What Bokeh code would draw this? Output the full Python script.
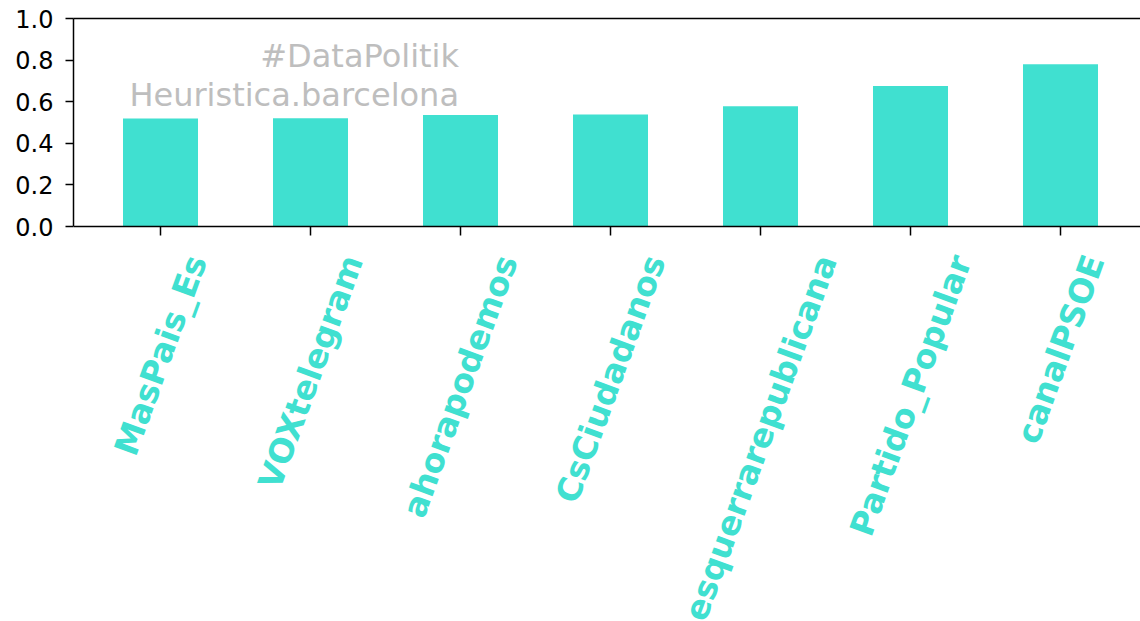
import math
from bokeh.plotting import figure
from bokeh.models import FixedTicker, LinearAxis, PrintfTickFormatter, Range1d, Span, ColumnDataSource
from bokeh.embed import file_html
from bokeh.resources import INLINE

# ---- data ----
accounts = ["MasPais_Es", "VOXtelegram", "ahorapodemos", "CsCiudadanos",
            "esquerrarepublicana", "Partido_Popular", "canalPSOE"]
scores = [0.519, 0.521, 0.536, 0.538, 0.578, 0.676, 0.780]
y_ticks = [0.0, 0.2, 0.4, 0.6, 0.8, 1.0]
watermark_lines = ["#DataPolitik", "Heuristica.barcelona"]

TURQ = "#40E0D0"
FONT = "DejaVu Sans"
LABEL_SIZE = 33
ANGLE = 70.0

W, H = 1140, 621
LEFT, TOP = 73, 18
PX_PER_Y = 208.0      # pixels for one y unit
PX_PER_X = 150.0      # pixels between categories
X0 = -0.58
frame_w = W - LEFT
frame_h = H - TOP
y_start = 1.0 - frame_h / PX_PER_Y
x_end = X0 + frame_w / PX_PER_X

# approximate advance widths (em) of DejaVu Sans Bold, to centre rotated labels
ADV = {'a': .675, 'b': .716, 'c': .593, 'd': .716, 'e': .678, 'g': .716, 'i': .343,
       'l': .343, 'm': 1.042, 'n': .712, 'o': .687, 'p': .716, 'q': .716, 'r': .493,
       's': .595, 't': .478, 'u': .712, 'C': .734, 'E': .683, 'M': .994, 'O': .850,
       'P': .733, 'S': .720, 'V': .774, 'X': .756, '_': .5}

def text_len(s, size):
    return sum(ADV.get(ch, .65) for ch in s) * size

xs = list(range(len(accounts)))

p = figure(width=W, height=H, output_backend="svg", toolbar_location=None,
           x_range=Range1d(X0, x_end), y_range=Range1d(y_start, 1.0),
           x_axis_location=None,
           min_border_left=LEFT, min_border_right=0, min_border_top=TOP,
           min_border_bottom=0)
p.outline_line_color = None
p.xgrid.visible = False
p.ygrid.visible = False
p.background_fill_color = "white"
p.border_fill_color = "white"

# x tick marks (drawn below the bars)
tick_len = 9 / PX_PER_Y
p.segment(x0=xs, y0=[0] * len(xs), x1=xs, y1=[-tick_len] * len(xs),
          line_color="black", line_width=1.5)

p.vbar(x=xs, top=scores, width=0.5, fill_color=TURQ, line_color=None)

# x axis line
p.add_layout(Span(location=0, dimension="width", line_color="black", line_width=1.5))

# y axis
p.yaxis.ticker = FixedTicker(ticks=y_ticks)
p.yaxis.bounds = (0, 1)
p.yaxis.formatter = PrintfTickFormatter(format="%.1f")
p.yaxis.major_label_text_font = FONT
p.yaxis.major_label_text_font_size = "24px"
p.yaxis.major_label_text_color = "black"
p.yaxis.major_tick_out = 8
p.yaxis.major_tick_in = 0
p.yaxis.minor_tick_line_color = None
p.yaxis.major_label_standoff = 12
p.yaxis.axis_line_width = 1.5
p.yaxis.major_tick_line_width = 1.5

# top spine
top = LinearAxis(ticker=FixedTicker(ticks=[]),
                 major_tick_line_color=None, minor_tick_line_color=None,
                 axis_line_width=1.5)
p.add_layout(top, "above")

# rotated category labels, centred on each tick (end of text anchored)
th = math.radians(ANGLE)
lab_x = [x + (text_len(n, LABEL_SIZE) / 2) * math.cos(th) / PX_PER_X
         for x, n in zip(xs, accounts)]
lab_y = [-30 / PX_PER_Y] * len(xs)
src = ColumnDataSource(dict(x=lab_x, y=lab_y, t=accounts))
p.text(x="x", y="y", text="t", source=src, angle=ANGLE, angle_units="deg",
       text_align="right", text_baseline="middle",
       text_font={"value": FONT}, text_font_style="bold",
       text_font_size={"value": f"{LABEL_SIZE}px"}, text_color=TURQ)

# watermark
wsrc = ColumnDataSource(dict(x=[1.99, 1.99], y=[0.819, 0.633], t=watermark_lines))
p.text(x="x", y="y", text="t", source=wsrc, text_align="right",
       text_baseline="alphabetic", text_font={"value": FONT},
       text_font_size={"value": "32px"}, text_color="#BEBEBE")

open("out.html", "w").write(file_html(p, INLINE))
